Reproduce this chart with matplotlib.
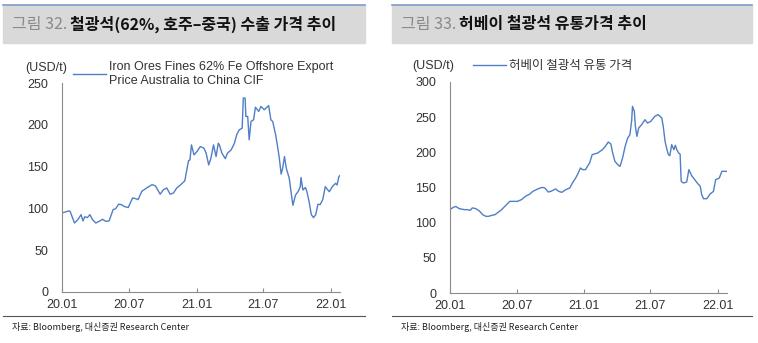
import matplotlib
matplotlib.use('Agg')
import matplotlib.pyplot as plt
import pandas as pd

# 철광석(62%, 호주-중국) 수출 가격
aus_dates = ['2020-01-01', '2020-01-19', '2020-01-23', '2020-02-04', '2020-02-13', '2020-02-22',
             '2020-02-27', '2020-03-03', '2020-03-10', '2020-03-17', '2020-03-24', '2020-04-02',
             '2020-04-13', '2020-04-20', '2020-04-29', '2020-05-08', '2020-05-19', '2020-05-26',
             '2020-06-03', '2020-06-11', '2020-06-17', '2020-06-29', '2020-07-11', '2020-07-20',
             '2020-07-26', '2020-08-05', '2020-08-18', '2020-09-02', '2020-09-11', '2020-09-24',
             '2020-10-03', '2020-10-12', '2020-10-21', '2020-10-30', '2020-11-08', '2020-11-17',
             '2020-11-30', '2020-12-10', '2020-12-14', '2020-12-18', '2020-12-25', '2021-01-02',
             '2021-01-11', '2021-01-21', '2021-01-27', '2021-02-03', '2021-02-09', '2021-02-16',
             '2021-02-23', '2021-03-01', '2021-03-04', '2021-03-11', '2021-03-20', '2021-03-26',
             '2021-04-05', '2021-04-14', '2021-04-20', '2021-04-27', '2021-05-05', '2021-05-08',
             '2021-05-13', '2021-05-15', '2021-05-20', '2021-05-24', '2021-05-29', '2021-06-05',
             '2021-06-10', '2021-06-19', '2021-06-25', '2021-07-04', '2021-07-16', '2021-07-22',
             '2021-07-27', '2021-08-04', '2021-08-10', '2021-08-14', '2021-08-19', '2021-08-23',
             '2021-08-28', '2021-09-02', '2021-09-10', '2021-09-16', '2021-09-20', '2021-09-27',
             '2021-10-04', '2021-10-10', '2021-10-12', '2021-10-17', '2021-10-24', '2021-10-28',
             '2021-11-03', '2021-11-09', '2021-11-15', '2021-11-21', '2021-11-27', '2021-12-03',
             '2021-12-10', '2021-12-17', '2021-12-24', '2021-12-28', '2022-01-05', '2022-01-14',
             '2022-01-18', '2022-01-23', '2022-01-27']
aus_price = [94.5, 97, 96.5, 82.5, 86.5, 92.5, 85, 90, 89, 92.5, 86.5, 82.5,
             85, 87, 84.5, 85, 98.5, 99.7, 105, 104.5, 102.5, 101, 112.5, 111.6,
             110.5, 120.4, 124.4, 128.4, 127, 117, 122.4, 124.4, 117, 118.4, 124.4, 127.6,
             133, 157, 158, 176, 164, 168, 174, 172, 166, 152, 160, 176,
             162, 178, 176, 166, 159.5, 166, 170, 178, 188, 194, 196, 232,
             232, 210, 210, 182, 204, 206, 221, 216, 222, 218, 223, 206,
             204, 188, 172, 160, 141, 148, 162, 148, 136, 116, 103.7, 116,
             120, 126, 137, 122, 125, 120, 108, 92.5, 89, 92.5, 105, 104.5,
             110.5, 126, 122, 120, 126, 130, 128, 138, 140]

# 허베이 철광석 유통 가격
hebei_dates = ['2020-01-01', '2020-01-10', '2020-01-17', '2020-01-26', '2020-02-09', '2020-02-18',
               '2020-02-25', '2020-03-02', '2020-03-11', '2020-03-20', '2020-03-24', '2020-03-30',
               '2020-04-08', '2020-04-15', '2020-04-24', '2020-05-03', '2020-05-12', '2020-05-21',
               '2020-05-27', '2020-06-06', '2020-06-12', '2020-06-24', '2020-07-03', '2020-07-14',
               '2020-07-25', '2020-08-06', '2020-08-14', '2020-08-29', '2020-09-09', '2020-09-16',
               '2020-09-25', '2020-10-02', '2020-10-15', '2020-10-24', '2020-11-01', '2020-11-12',
               '2020-11-23', '2020-11-30', '2020-12-09', '2020-12-16', '2020-12-22', '2020-12-28',
               '2021-01-05', '2021-01-10', '2021-01-16', '2021-01-23', '2021-02-07', '2021-02-20',
               '2021-02-28', '2021-03-08', '2021-03-15', '2021-03-19', '2021-03-26', '2021-04-03',
               '2021-04-09', '2021-04-16', '2021-04-23', '2021-04-30', '2021-05-06', '2021-05-11',
               '2021-05-13', '2021-05-18', '2021-05-21', '2021-05-25', '2021-05-30', '2021-06-07',
               '2021-06-16', '2021-06-23', '2021-07-02', '2021-07-13', '2021-07-22', '2021-08-01',
               '2021-08-05', '2021-08-10', '2021-08-14', '2021-08-19', '2021-08-23', '2021-08-28',
               '2021-09-03', '2021-09-07', '2021-09-11', '2021-09-16', '2021-09-20', '2021-09-23',
               '2021-09-29', '2021-10-08', '2021-10-14', '2021-10-21', '2021-10-30', '2021-11-08',
               '2021-11-14', '2021-11-18', '2021-11-23', '2021-12-02', '2021-12-11', '2021-12-20',
               '2021-12-26', '2022-01-05', '2022-01-12', '2022-01-25']
hebei_price = [118.5, 121.8, 123, 120, 118.5, 118.5, 117.5, 121, 120, 117, 115, 111.4,
               109, 109, 110.4, 111.4, 115, 118.5, 121.8, 127, 130.3, 130.3, 130.3, 132.7,
               137.4, 140.8, 144.5, 148.3, 150.2, 149.3, 143.6, 144.5, 147.9, 144.5, 143.1, 146.9,
               149.3, 156.4, 163.5, 170.6, 177.7, 175.4, 175.4, 180, 184.8, 196.7, 199, 203.8,
               208.5, 214.7, 211.8, 201.4, 187.2, 182.5, 180, 192, 208.5, 220.4, 225, 246.4,
               265.4, 258.3, 237, 222.7, 234.6, 239.3, 246.4, 241.7, 244, 251.2, 253.6, 248.8,
               237, 215.6, 206.2, 196.7, 195.3, 210.9, 203.8, 210, 203.8, 199, 197.6, 158.8,
               156.4, 157.8, 175.4, 167.3, 161.1, 155, 151.7, 139.8, 134.1, 134.1, 140.8, 144.5,
               161.1, 163.5, 173, 173]

tick_dates = ['2020-01-01', '2020-07-01', '2021-01-01', '2021-07-01', '2022-01-01']
tick_labels = ['20.01', '20.07', '21.01', '21.07', '22.01']

W, H = 758, 343
LINE = '#4f7fc5'
AXIS = '#8c8c8c'
TXT = '#333333'
LAT = ['Liberation Sans', 'Noto Sans CJK KR']
KR = ['Noto Sans CJK KR', 'DejaVu Sans']

fig = plt.figure(figsize=(W / 100, H / 100), dpi=100)


def px(x0, y0, x1, y1):
    return [x0 / W, 1 - y1 / H, (x1 - x0) / W, (y1 - y0) / H]


def header(x0, x1, num, title, source):
    # gray title box with blue line on top
    fig.patches.append(plt.Rectangle((x0 / W, 1 - 43 / H), (x1 - x0) / W, 38 / H,
                                     transform=fig.transFigure, color='#d9d9d9', zorder=0))
    fig.add_artist(plt.Line2D([x0 / W, x1 / W], [1 - 5 / H, 1 - 5 / H], color='#7f9cc9', lw=1.2))
    t = fig.text((x0 + 9) / W, 1 - 24 / H, num, family=KR, fontsize=11.5, color='#8a8a8a', va='center')
    fig.canvas.draw()
    bb = t.get_window_extent()
    fig.text(bb.x1 / W + 0.004, 1 - 24 / H, title, family=KR, fontsize=11.5, weight='bold',
             color='#111111', va='center')
    fig.add_artist(plt.Line2D([x0 / W, x1 / W], [1 - 316 / H, 1 - 316 / H], color='#555555', lw=0.8))
    fig.text((x0 + 9) / W, 1 - 327 / H, source, family=KR, fontsize=6.5, color='#222222', va='center')


def panel(rect, dates, values, ymax, label, lx, ly, family, lsize):
    ax = fig.add_axes(rect)
    ax.plot(pd.to_datetime(dates), values, color=LINE, lw=1.0, label=label)
    ax.set_ylim(0, ymax)
    ax.set_yticks(range(0, ymax + 1, 50))
    ax.set_xlim(pd.Timestamp('2020-01-01'), pd.Timestamp('2022-01-26'))
    ax.set_xticks(pd.to_datetime(tick_dates))
    ax.set_xticklabels(tick_labels)
    for s in ['top', 'right']:
        ax.spines[s].set_visible(False)
    for s in ['left', 'bottom']:
        ax.spines[s].set_color(AXIS)
        ax.spines[s].set_linewidth(0.8)
    ax.tick_params(axis='x', direction='in', length=3, color=AXIS, pad=5, labelsize=9, labelcolor=TXT)
    ax.tick_params(axis='y', length=0, pad=10, labelsize=9, labelcolor=TXT)
    for lab in ax.get_xticklabels() + ax.get_yticklabels():
        lab.set_family(LAT)
    leg = ax.legend(loc='upper left', bbox_to_anchor=(lx / W, 1 - ly / H), bbox_transform=fig.transFigure,
                    frameon=False, handlelength=2.6, handletextpad=0.3, borderpad=0,
                    borderaxespad=0, labelspacing=0.2, prop={'family': family, 'size': lsize})
    for t in leg.get_texts():
        t.set_color(TXT)
    return ax


header(3, 365, '그림 32.', '철광석(62%, 호주–중국) 수출 가격 추이', '자료: Bloomberg, 대신증권 Research Center')
header(392, 752, '그림 33.', '허베이 철광석 유통가격 추이', '자료: Bloomberg, 대신증권 Research Center')

panel(px(62, 83, 340, 292), aus_dates, aus_price, 250,
      'Iron Ores Fines 62% Fe Offshore Export\nPrice Australia to China CIF', 73, 61, LAT, 9)
fig.text(25 / W, 1 - 68 / H, '(USD/t)', family=LAT, fontsize=9, color=TXT, va='center')

panel(px(450, 82, 727, 293), hebei_dates, hebei_price, 300,
      '허베이 철광석 유통 가격', 473, 59, KR, 9)
fig.text(412 / W, 1 - 66 / H, '(USD/t)', family=LAT, fontsize=9, color=TXT, va='center')

fig.savefig('out.png', dpi=100)
